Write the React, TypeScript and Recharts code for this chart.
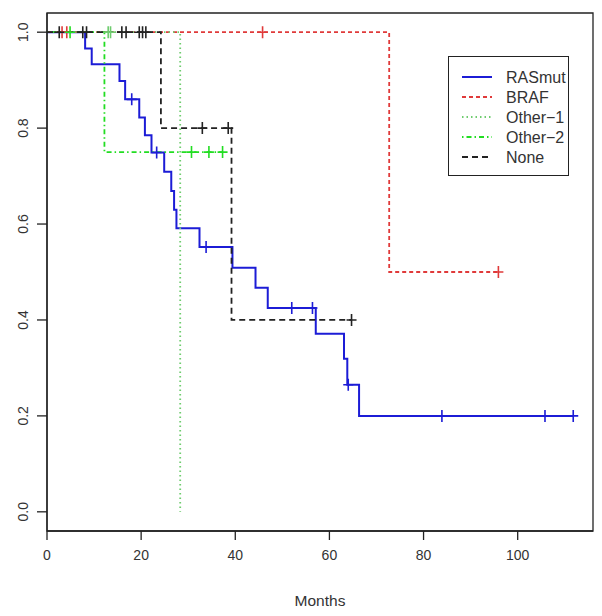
import React from 'react'
import {
  ComposedChart,
  Line,
  Scatter,
  XAxis,
  YAxis,
  ReferenceArea,
  Label,
} from 'recharts'

// ─── Kaplan-Meier steps (months / survival) ──────────────────────────────

const rasTimes = [0, 8.1, 9.5, 15.4, 16.6, 19.6, 20.8, 22.2, 24.9, 26.4, 27.0, 27.5, 32.4, 39.4, 44.3, 46.9, 57.1, 63.1, 63.8, 66.3, 111.8]
const rasSurv = [1, 0.966, 0.933, 0.898, 0.86, 0.822, 0.785, 0.749, 0.709, 0.669, 0.63, 0.591, 0.552, 0.509, 0.467, 0.425, 0.371, 0.319, 0.265, 0.2, 0.2]
const rasCensor = [18.0, 23.3, 33.8, 52.0, 56.4, 64.0, 83.9, 105.8, 111.8]

const brafTimes = [0, 72.7, 95.9]
const brafSurv = [1, 0.5, 0.5]
const brafCensor = [3.2, 4.2, 45.8, 95.9]

const other1Times = [0, 28.3]
const other1Surv = [1, 0]
const other1Censor = [13.0, 13.5]

const other2Times = [0, 12.2, 37.3]
const other2Surv = [1, 0.75, 0.75]
const other2Censor = [4.9, 30.7, 34.4, 37.3]

const noneTimes = [0, 24.2, 39.2, 64.7]
const noneSurv = [1, 0.8, 0.4, 0.4]
const noneCensor = [2.6, 7.6, 8.4, 15.9, 16.8, 19.6, 20.3, 21.0, 33.0, 38.5, 64.7]

const xTicks = [0, 20, 40, 60, 80, 100]
const yTicks = [0, 0.2, 0.4, 0.6, 0.8, 1.0]

const FONT = '"Liberation Sans", Arial, sans-serif'
const TEXT = '#333'
const AXIS = '#222'

type Pt = { t: number; s: number }

const steps = (times: number[], surv: number[]): Pt[] =>
  times.map((t, i) => ({ t, s: surv[i] }))

// survival value at a censoring time = last step at or before it
const marks = (censor: number[], times: number[], surv: number[]): Pt[] =>
  censor.map((c) => {
    let s = surv[0]
    times.forEach((t, i) => {
      if (t <= c) s = surv[i]
    })
    return { t: c, s }
  })

interface Group {
  name: string
  color: string
  dash?: string
  width: number
  line: Pt[]
  cens: Pt[]
}

const groups: Group[] = [
  { name: 'RASmut', color: '#1c1cd6', width: 2, line: steps(rasTimes, rasSurv), cens: marks(rasCensor, rasTimes, rasSurv) },
  { name: 'BRAF', color: '#e03a3a', dash: '4 3', width: 1.8, line: steps(brafTimes, brafSurv), cens: marks(brafCensor, brafTimes, brafSurv) },
  { name: 'Other\u22121', color: '#6fcc6f', dash: '1.5 3', width: 1.8, line: steps(other1Times, other1Surv), cens: marks(other1Censor, other1Times, other1Surv) },
  { name: 'Other\u22122', color: '#22dd22', dash: '1.5 3 5 3', width: 1.8, line: steps(other2Times, other2Surv), cens: marks(other2Censor, other2Times, other2Surv) },
  { name: 'None', color: '#222222', dash: '6 4', width: 1.8, line: steps(noneTimes, noneSurv), cens: marks(noneCensor, noneTimes, noneSurv) },
]

const cross = (color: string) => (props: any) => {
  const { cx, cy } = props
  return (
    <path
      d={`M${cx - 5},${cy}h10M${cx},${cy - 6}v12`}
      stroke={color}
      strokeWidth={1.6}
      fill="none"
    />
  )
}

const XTick = (props: any) => {
  const { x, y, payload } = props
  return (
    <text x={x} y={y} dy={18} textAnchor="middle" fontSize={14} fontFamily={FONT} fill={TEXT}>
      {payload.value}
    </text>
  )
}

const YTick = (props: any) => {
  const { y, payload } = props
  const bx = 28
  return (
    <text
      x={bx}
      y={y}
      transform={`rotate(-90, ${bx}, ${y})`}
      textAnchor="middle"
      fontSize={14}
      fontFamily={FONT}
      fill={TEXT}
    >
      {Number(payload.value).toFixed(1)}
    </text>
  )
}

function KMLegend() {
  const rowY = [21, 41, 61, 81, 101]
  return (
    <div
      style={{
        position: 'absolute',
        left: 448,
        top: 56,
        width: 121,
        height: 120,
        boxSizing: 'border-box',
        border: `1.5px solid ${AXIS}`,
        background: '#fff',
      }}
    >
      <svg width={118} height={117} style={{ display: 'block' }}>
        {groups.map((g, i) => (
          <g key={g.name}>
            <line
              x1={13}
              x2={43}
              y1={rowY[i] - 1}
              y2={rowY[i] - 1}
              stroke={g.color}
              strokeWidth={g.width}
              strokeDasharray={g.dash}
            />
            <text x={57} y={rowY[i] + 5} fontSize={16} fontFamily={FONT} fill={TEXT}>
              {g.name}
            </text>
          </g>
        ))}
      </svg>
    </div>
  )
}

export default function App() {
  return (
    <div style={{ position: 'absolute', left: 0, top: 0, width: 602, height: 616, background: '#fff' }}>
      <ComposedChart
        width={602}
        height={616}
        margin={{ top: 13, right: 9, bottom: 5, left: 7 }}
      >
        <XAxis
          type="number"
          dataKey="t"
          domain={[0, 116]}
          ticks={xTicks}
          allowDataOverflow
          height={80}
          tickSize={9}
          tick={<XTick />}
          axisLine={{ stroke: AXIS, strokeWidth: 1.3 }}
          tickLine={{ stroke: AXIS, strokeWidth: 1.3 }}
        >
          <Label
            value="Months"
            position="insideBottom"
            offset={5}
            style={{ fontSize: 15.5, fontFamily: FONT, fill: TEXT }}
          />
        </XAxis>
        <YAxis
          type="number"
          domain={[-0.04, 1.04]}
          ticks={yTicks}
          allowDataOverflow
          width={40}
          tickSize={10}
          tick={<YTick />}
          axisLine={{ stroke: AXIS, strokeWidth: 1.3 }}
          tickLine={{ stroke: AXIS, strokeWidth: 1.3 }}
        />
        <ReferenceArea
          x1={0}
          x2={116}
          y1={-0.04}
          y2={1.04}
          fill="none"
          stroke={AXIS}
          strokeWidth={1.3}
          ifOverflow="visible"
        />
        {groups.map((g) => (
          <Line
            key={`l-${g.name}`}
            data={g.line}
            dataKey="s"
            type="stepAfter"
            stroke={g.color}
            strokeWidth={g.width}
            strokeDasharray={g.dash}
            dot={false}
            activeDot={false}
            isAnimationActive={false}
          />
        ))}
        {groups.map((g) => (
          <Scatter
            key={`c-${g.name}`}
            data={g.cens}
            dataKey="s"
            shape={cross(g.color)}
            isAnimationActive={false}
          />
        ))}
      </ComposedChart>
      <KMLegend />
    </div>
  )
}
